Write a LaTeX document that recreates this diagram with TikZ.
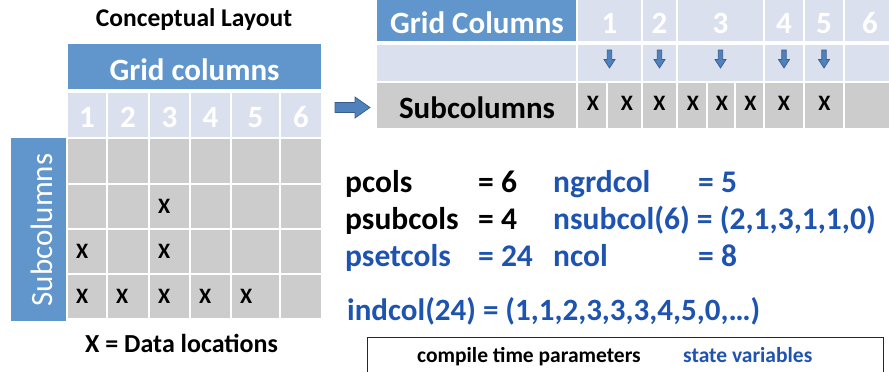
\documentclass[tikz,border=0pt]{standalone}
\usepackage{fontspec}
\setmainfont{Carlito}
\definecolor{hdrblue}{RGB}{96,150,203}
\definecolor{ltblue}{RGB}{218,224,238}
\definecolor{cellgray}{RGB}{204,204,204}
\definecolor{txtblue}{RGB}{30,84,176}
\definecolor{arrfill}{RGB}{79,129,189}
\definecolor{arrline}{RGB}{56,93,138}
\newcommand\cellat[6]{\node[#6, minimum width={(#4)-(#2)}, minimum height={(#5)-(#3)}] (#1) at (#2,#3) {};}
\tikzset{
  cell/.style={rectangle, anchor=north west, inner sep=0pt, outer sep=0pt, draw=white, line width=2pt},
  hdrcell/.style={cell, fill=hdrblue},
  ltcell/.style={cell, fill=ltblue},
  graycell/.style={cell, fill=cellgray},
  barcell/.style={rectangle, anchor=north west, inner sep=0pt, outer sep=0pt, fill=hdrblue},
  bigw/.style={font=\fontsize{31}{36}\selectfont\bfseries, text=white, inner sep=0pt, anchor=base},
  bigk/.style={font=\fontsize{31.5}{36}\selectfont\bfseries, inner sep=0pt, anchor=base west},
  bigb/.style={bigk, text=txtblue},
  xmark/.style={font=\fontsize{22}{24}\selectfont\bfseries, inner sep=0pt},
  small/.style={font=\fontsize{21.5}{26}\selectfont\bfseries, inner sep=0pt, anchor=base west},
  arrowshape/.style={draw=arrline, fill=arrfill, line width=0.7pt, line join=miter},
  darrow/.pic={\draw[arrowshape] (-2.2,-9) -- (2.2,-9) -- (2.2,0.5) -- (5.5,0.5) -- (0,9) -- (-5.5,0.5) -- (-2.2,0.5) -- cycle;}
}
\begin{document}
\begin{tikzpicture}[x=1pt,y=-1pt]
\useasboundingbox (0,0) rectangle (889,372);
\clip (0,0) rectangle (889,372);
% ---------- left: conceptual layout ----------
\node[font=\fontsize{25.5}{30}\selectfont\bfseries, inner sep=0pt, anchor=base] (title) at (194,27) {Conceptual Layout};
\cellat{lGC}{67}{43}{322}{90}{hdrcell}
\node[bigw] (lGCt) at (194.5,80) {Grid columns};
\cellat{lN1}{67}{92}{107}{138}{ltcell}
\cellat{lN2}{107}{92}{149}{138}{ltcell}
\cellat{lN3}{149}{92}{190}{138}{ltcell}
\cellat{lN4}{190}{92}{231}{138}{ltcell}
\cellat{lN5}{231}{92}{280}{138}{ltcell}
\cellat{lN6}{280}{92}{322}{138}{ltcell}
\foreach \i in {1,...,6}{\node[bigw] (lNt\i) at (lN\i.center |- 0,127) {\i};}
\foreach \r/\ya/\yb in {1/138/184,2/184/229,3/229/274,4/274/319}{
  \cellat{g\r1}{67}{\ya}{107}{\yb}{graycell}
  \cellat{g\r2}{107}{\ya}{149}{\yb}{graycell}
  \cellat{g\r3}{149}{\ya}{190}{\yb}{graycell}
  \cellat{g\r4}{190}{\ya}{231}{\yb}{graycell}
  \cellat{g\r5}{231}{\ya}{280}{\yb}{graycell}
  \cellat{g\r6}{280}{\ya}{322}{\yb}{graycell}
}
\cellat{lSub}{11}{138}{66}{321}{barcell}
\node[font=\fontsize{31}{36}\selectfont, text=white, inner sep=0pt, rotate=90, anchor=base] (lSubt) at (52,230) {Subcolumns};
\foreach \c/\r in {3/2,1/3,3/3,1/4,2/4,3/4,4/4,5/4}{
  \node[xmark, anchor=west] (lx\r\c) at ([xshift=9pt]g\r\c.west) {X};
}
\node[font=\fontsize{26}{30}\selectfont\bfseries, inner sep=0pt, anchor=base west] (legend) at (85,352) {X = Data locations};
% ---------- arrow ----------
\coordinate (arr) at (335,107.5);
\draw[arrowshape] (arr) ++(0,-5) -- ++(20,0) -- ++(0,-5.5) -- ++(15,10.5) -- ++(-15,10.5) -- ++(0,-5.5) -- ++(-20,0) -- cycle;
% ---------- right: table ----------
\cellat{tGC}{376}{-5}{577}{42}{hdrcell}
\node[bigw] (tGCt) at (477,33) {Grid Columns};
\cellat{tN1}{577}{-5}{642}{42}{ltcell}
\cellat{tN2}{642}{-5}{677}{42}{ltcell}
\cellat{tN3}{677}{-5}{764}{42}{ltcell}
\cellat{tN4}{764}{-5}{804}{42}{ltcell}
\cellat{tN5}{804}{-5}{844}{42}{ltcell}
\cellat{tN6}{844}{-5}{900}{42}{ltcell}
\foreach \i/\xx in {1/609.5,2/659.5,3/720.5,4/784,5/824,6/870}{\node[bigw] (tNt\i) at (\xx,33) {\i};}
\cellat{tA0}{376}{44}{577}{82}{ltcell}
\cellat{tA1}{577}{44}{642}{82}{ltcell}
\cellat{tA2}{642}{44}{677}{82}{ltcell}
\cellat{tA3}{677}{44}{764}{82}{ltcell}
\cellat{tA4}{764}{44}{804}{82}{ltcell}
\cellat{tA5}{804}{44}{844}{82}{ltcell}
\cellat{tA6}{844}{44}{900}{82}{ltcell}
\foreach \i in {1,...,5}{\pic at ([yshift=4pt]tA\i.center) {darrow};}
\cellat{tS0}{376}{82}{577}{129}{graycell}
\node[bigw, text=black] (tS0t) at (477,118) {Subcolumns};
\cellat{ts1}{577}{82}{607}{129}{graycell}
\cellat{ts2}{607}{82}{642}{129}{graycell}
\cellat{ts3}{642}{82}{677}{129}{graycell}
\cellat{ts4}{677}{82}{707}{129}{graycell}
\cellat{ts5}{707}{82}{735}{129}{graycell}
\cellat{ts6}{735}{82}{764}{129}{graycell}
\cellat{ts7}{764}{82}{804}{129}{graycell}
\cellat{ts8}{804}{82}{844}{129}{graycell}
\cellat{ts9}{844}{82}{900}{129}{graycell}
\foreach \i/\xx in {1/593,2/627,3/659.5,4/693,5/722,6/750.5,7/784,8/824.5}{\node[xmark, anchor=base] (tx\i) at (\xx,110) {X};}
% ---------- parameters ----------
\node[bigk] (p1) at (345,192) {pcols};
\node[bigk] (p1v) at (478,192) {= 6};
\node[bigb] (s1) at (553,192) {ngrdcol};
\node[bigb] (s1v) at (698,192) {= 5};
\node[bigk] (p2) at (345,229) {psubcols};
\node[bigk] (p2v) at (478,229) {= 4};
\node[bigb] (s2) at (553,229) {nsubcol(6) = (2,1,3,1,1,0)};
\node[bigb] (p3) at (345,266) {psetcols};
\node[bigb] (p3v) at (478,266) {= 24};
\node[bigb] (s3) at (553,266) {ncol};
\node[bigb] (s3v) at (698,266) {= 8};
\node[bigb, font=\fontsize{31}{36}\selectfont\bfseries] (ind) at (347,320) {indcol(24) = (1,1,2,3,3,3,4,5,0,…)};
\node[draw=black!85, line width=0.8pt, rectangle, anchor=north west, inner sep=0pt, minimum width=516pt, minimum height=50pt] (keybox) at (367,337) {};
\node[small] (k1) at (417,362) {compile time parameters};
\node[small, text=txtblue] (k2) at (683,362) {state variables};
\end{tikzpicture}
\end{document}
